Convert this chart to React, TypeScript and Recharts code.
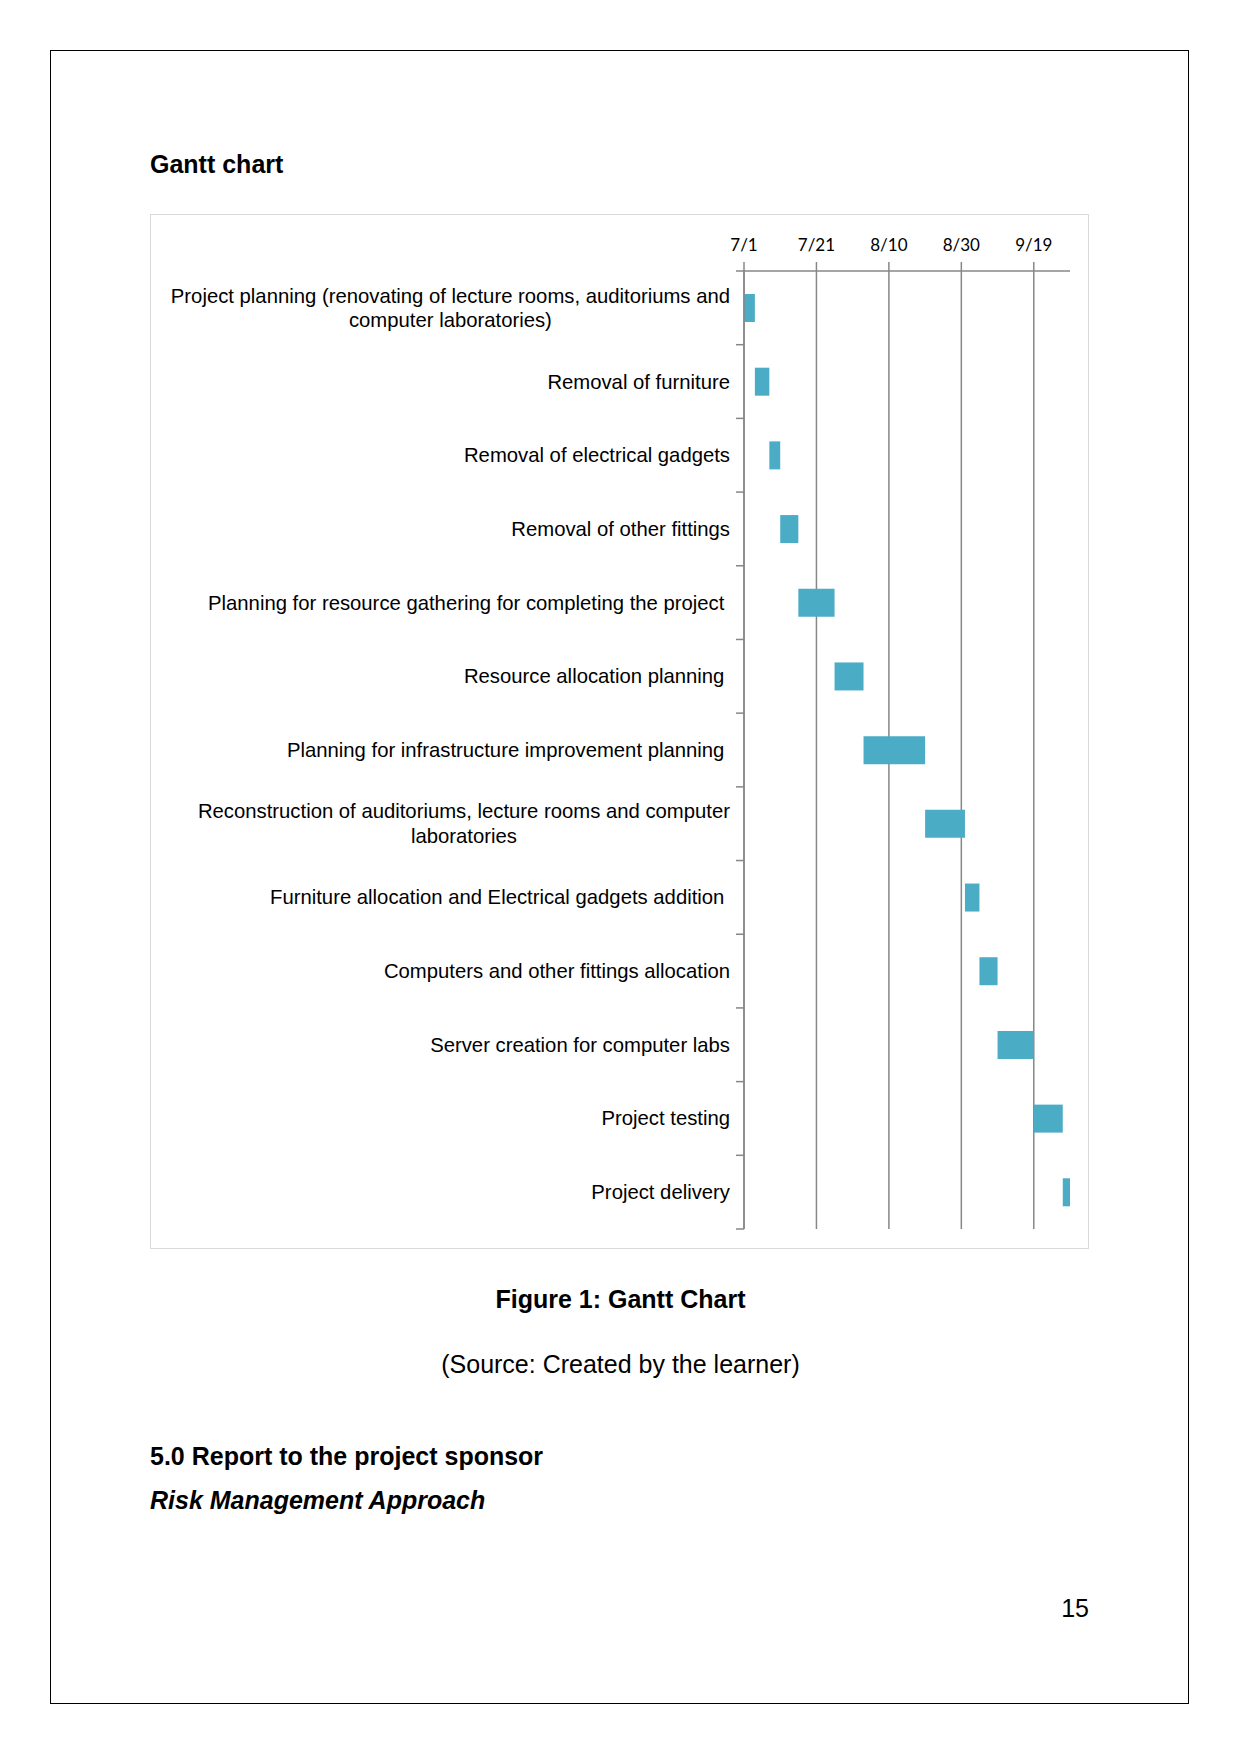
import React from 'react';
import { BarChart, Bar, XAxis, YAxis, CartesianGrid } from 'recharts';

// ---- Data ----
const taskNames: string[] = [
  'Project planning (renovating of lecture rooms, auditoriums and\ncomputer laboratories)',
  'Removal of furniture',
  'Removal of electrical gadgets',
  'Removal of other fittings',
  'Planning for resource gathering for completing the project ',
  'Resource allocation planning ',
  'Planning for infrastructure improvement planning ',
  'Reconstruction of auditoriums, lecture rooms and computer\nlaboratories',
  'Furniture allocation and Electrical gadgets addition ',
  'Computers and other fittings allocation',
  'Server creation for computer labs',
  'Project testing',
  'Project delivery',
];
// days after 7/1
const startDays: number[] = [0, 3, 7, 10, 15, 25, 33, 50, 61, 65, 70, 80, 88];
const durationDays: number[] = [3, 4, 3, 5, 10, 8, 17, 11, 4, 5, 10, 8, 2];
const axisTickDays: number[] = [0, 20, 40, 60, 80];
const axisTickLabels: string[] = ['7/1', '7/21', '8/10', '8/30', '9/19'];
const axisDomain: [number, number] = [0, 90];

const data = taskNames.map((name, i) => ({
  name,
  start: startDays[i],
  duration: durationDays[i],
}));

// ---- Layout ----
const CHART_LEFT = 150;
const CHART_TOP = 214;
const CHART_W = 939;
const CHART_H = 1035;
const Y_AXIS_W = 594;
const X_AXIS_H = 57;
const MARGIN = { top: 0, right: 19, bottom: 20, left: 0 };
const PLOT_H = CHART_H - MARGIN.top - MARGIN.bottom - X_AXIS_H;
const AXIS_COLOR = '#878787';
const BAR_COLOR = '#4BACC6';
const LABEL_FONT = "'Liberation Sans', Arial, sans-serif";
const LABEL_SIZE = 20.3;

let measureCtx: CanvasRenderingContext2D | null = null;
function measure(text: string, font: string): number {
  if (!measureCtx) {
    const c = document.createElement('canvas');
    measureCtx = c.getContext('2d');
  }
  if (!measureCtx) return text.length * 10;
  measureCtx.font = font;
  return measureCtx.measureText(text).width;
}

const CategoryTick = (props: any) => {
  const { x, y, payload } = props;
  const index = props.index ?? payload?.index ?? 0;
  const band = PLOT_H / taskNames.length;
  const lines = String(payload.value).split('\n');
  const right = x - 14;
  const lineH = 24.5;
  const firstBase = y + 7 - ((lines.length - 1) * lineH) / 2;
  const widths = lines.map((l) => measure(l, `${LABEL_SIZE}px ${LABEL_FONT}`));
  const blockW = Math.max(...widths);
  const center = right - blockW / 2;
  return (
    <g>
      <line x1={x - 8} x2={x} y1={y - band / 2} y2={y - band / 2} stroke={AXIS_COLOR} strokeWidth={1.5} />
      {index === taskNames.length - 1 && (
        <line x1={x - 8} x2={x} y1={y + band / 2} y2={y + band / 2} stroke={AXIS_COLOR} strokeWidth={1.5} />
      )}
      {lines.map((l, i) => (
        <text
          key={i}
          x={lines.length > 1 ? center : right}
          y={firstBase + i * lineH}
          textAnchor={lines.length > 1 ? 'middle' : 'end'}
          fontFamily={LABEL_FONT}
          fontSize={LABEL_SIZE}
          fill="#000"
          style={{ whiteSpace: 'pre' }}
        >
          {l}
        </text>
      ))}
    </g>
  );
};

const DateTick = (props: any) => {
  const { x, y, payload } = props;
  const idx = axisTickDays.indexOf(payload.value);
  return (
    <text x={x} y={y - 9} textAnchor="middle" fontFamily="Lato, 'Open Sans', sans-serif" fontSize={17} fill="#000">
      {idx >= 0 ? axisTickLabels[idx] : ''}
    </text>
  );
};

const gridXs = (args: any) => {
  const scale = args?.xAxis?.scale;
  if (scale && typeof scale === 'function') {
    return axisTickDays.map((d) => scale(d));
  }
  if (scale && typeof scale.map === 'function') {
    return axisTickDays.map((d) => scale.map(d));
  }
  return [];
};

const textBase: React.CSSProperties = {
  position: 'absolute',
  fontFamily: LABEL_FONT,
  fontSize: 25,
  lineHeight: '25px',
  color: '#000',
  whiteSpace: 'nowrap',
  margin: 0,
};

export default function App() {
  return (
    <div style={{ position: 'absolute', left: 0, top: 0, width: 1241, height: 1754, background: '#fff' }}>
      <div
        style={{
          position: 'absolute',
          left: 50,
          top: 50,
          width: 1139,
          height: 1654,
          border: '1px solid #000',
          boxSizing: 'border-box',
        }}
      />
      <div style={{ ...textBase, left: 150, top: 152, fontWeight: 'bold' }}>Gantt chart</div>
      <div
        style={{
          position: 'absolute',
          left: CHART_LEFT,
          top: CHART_TOP,
          width: CHART_W,
          height: CHART_H,
          border: '1px solid #d9d9d9',
          boxSizing: 'border-box',
        }}
      />
      <div style={{ position: 'absolute', left: CHART_LEFT, top: CHART_TOP }}>
        <BarChart
          width={CHART_W}
          height={CHART_H}
          data={data}
          layout="vertical"
          margin={MARGIN}
          barSize={28}
        >
          <CartesianGrid
            horizontal={false}
            vertical={true}
            stroke={AXIS_COLOR}
            strokeWidth={1.5}
            verticalCoordinatesGenerator={gridXs}
          />
          <XAxis
            type="number"
            orientation="top"
            domain={axisDomain}
            ticks={axisTickDays}
            allowDataOverflow
            height={X_AXIS_H}
            tickSize={9}
            tickMargin={2}
            axisLine={{ stroke: AXIS_COLOR, strokeWidth: 1.5 }}
            tickLine={{ stroke: AXIS_COLOR, strokeWidth: 1.5 }}
            tick={<DateTick />}
            interval={0}
          />
          <YAxis
            type="category"
            dataKey="name"
            width={Y_AXIS_W}
            tickSize={0}
            tickMargin={0}
            tickLine={false}
            axisLine={{ stroke: AXIS_COLOR, strokeWidth: 1.5 }}
            tick={<CategoryTick />}
            interval={0}
          />
          <Bar dataKey="start" stackId="gantt" fill="transparent" isAnimationActive={false} />
          <Bar dataKey="duration" stackId="gantt" fill={BAR_COLOR} isAnimationActive={false} />
        </BarChart>
      </div>
      <div style={{ ...textBase, left: 0, width: 1241, textAlign: 'center', top: 1287, fontWeight: 'bold' }}>
        Figure 1: Gantt Chart
      </div>
      <div style={{ ...textBase, left: 0, width: 1241, textAlign: 'center', top: 1352 }}>
        (Source: Created by the learner)
      </div>
      <div style={{ ...textBase, left: 150, top: 1444, fontWeight: 'bold' }}>5.0 Report to the project sponsor</div>
      <div style={{ ...textBase, left: 150, top: 1488, fontWeight: 'bold', fontStyle: 'italic' }}>
        Risk Management Approach
      </div>
      <div style={{ ...textBase, left: 1000, width: 89, textAlign: 'right', top: 1596 }}>15</div>
    </div>
  );
}
